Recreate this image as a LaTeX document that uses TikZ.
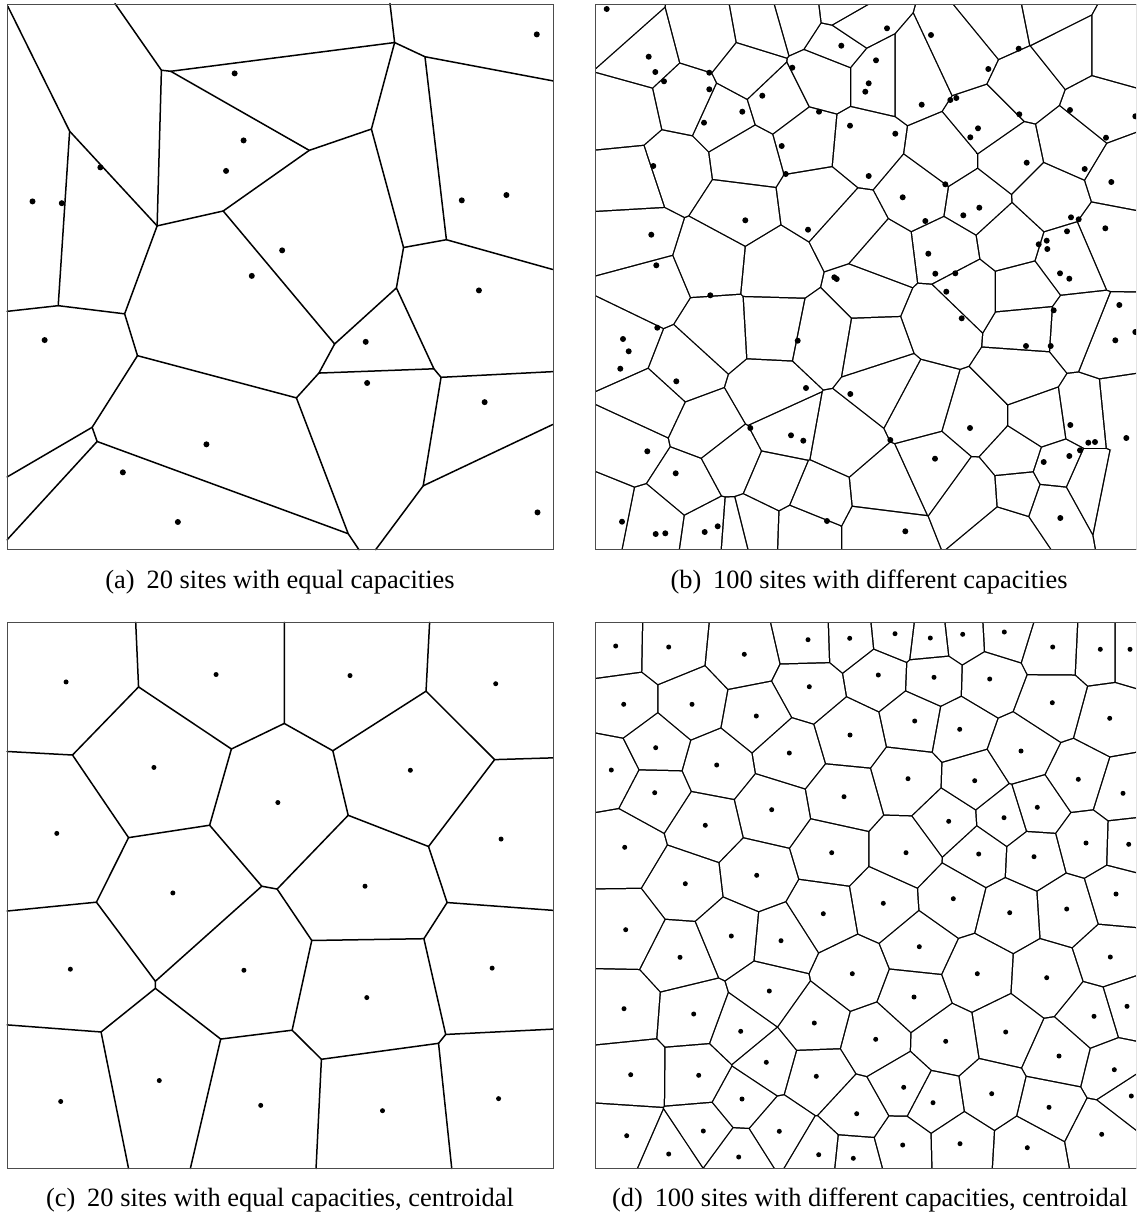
\documentclass[tikz,border=0pt]{standalone}
\usepackage{fontspec}
\setmainfont{Liberation Serif}
\ExplSyntaxOn
\cs_new:Npn \vfp #1 { \fp_to_decimal:n {#1} }
\ExplSyntaxOff
\def\vhw{0.75}
\newcommand\vorclip{%
  \edef\vdx{\vfp{\vxb-\vxa}}%
  \edef\vdy{\vfp{\vyb-\vya}}%
  \edef\vl{\vfp{sqrt((\vdx)^2+(\vdy)^2)}}%
  \edef\vux{\vfp{(\vdx)/\vl}}%
  \edef\vuy{\vfp{(\vdy)/\vl}}%
  \edef\vmx{\vfp{(\vxa+\vxb)/2-\vhw*(\vux)}}%
  \edef\vmy{\vfp{(\vya+\vyb)/2-\vhw*(\vuy)}}%
  \edef\vax{\vfp{round(\vmx-1500*(\vuy),3)}}%
  \edef\vay{\vfp{round(\vmy+1500*(\vux),3)}}%
  \edef\vbx{\vfp{round(\vmx+1500*(\vuy),3)}}%
  \edef\vby{\vfp{round(\vmy-1500*(\vux),3)}}%
  \edef\vcx{\vfp{round(\vbx-1500*(\vux),3)}}%
  \edef\vcy{\vfp{round(\vby-1500*(\vuy),3)}}%
  \edef\vex{\vfp{round(\vax-1500*(\vux),3)}}%
  \edef\vey{\vfp{round(\vay-1500*(\vuy),3)}}%
  \clip (\vax,\vay) -- (\vbx,\vby) -- (\vcx,\vcy) -- (\vex,\vey) -- cycle;%
}
\newcommand\vorpanel[6]{%
  \fill[black] (#2,#3) rectangle (#4,#5);
  \foreach \vxa/\vya [count=\ia] in #1 {
    \begin{scope}
      \clip (#2+\vhw,#3+\vhw) rectangle (#4-\vhw,#5-\vhw);
      \foreach \vxb/\vyb [count=\ib] in #1 {
        \ifnum\ia=\ib\relax\else
          \ifdim\dimexpr\vxb pt-\vxa pt\relax<#6pt
          \ifdim\dimexpr\vxa pt-\vxb pt\relax<#6pt
          \ifdim\dimexpr\vyb pt-\vya pt\relax<#6pt
          \ifdim\dimexpr\vya pt-\vyb pt\relax<#6pt
            \vorclip
          \fi\fi\fi\fi
        \fi
      }
      \fill[white] (#2,#3) rectangle (#4,#5);
    \end{scope}
  }
}
% generators of the cells of panel (b)
\def\genB{616.7/23.3, 643.3/53.3, 626.7/113.3, 706.7/36.7, 686.7/100, 723.3/116.7, 761.7/26.7, 748.3/70, 776.7/100, 796.7/16.7, 843.3/11, 850/22.7, 836.7/42.7, 823.3/76.7, 806.7/140, 862/145, 633.3/180, 673.3/166.7, 746.7/156.7, 740/210, 816.7/200, 636.7/238.3, 650/288, 712/262, 775/268, 850/230,
877.7/76.7, 912.7/76.7, 962.7/53.3, 999.3/23.3, 1049.3/13.3, 1067.7/50, 1116/50, 1026/83.3, 986/123.3, 946/156.7, 1009.3/156.7, 1072.7/143.3, 1099.3/110, 1122.7/173.3, 919.3/193.3, 974.3/201.7, 946/250, 1049.3/196.7, 1009.3/240, 1068/258, 1110/240, 882/258,
716.7/330, 773.3/326.7, 823.3/336.7, 623.3/343.3, 683.3/366.7, 770/393.3, 706.7/430, 650/403.3, 630/446.7, 686.7/483.3, 603.3/513.3, 653.3/523.3, 711.7/531.7, 733.3/533.3, 753.3/528.3, 730/460, 776.7/480, 786.7/430, 842/440, 816.7/496.7, 803.3/530, 880/530, 870/290, 872/345,
941/320, 968/292, 1022.7/291.7, 1026/326.7, 1076/330, 1109.3/343.3, 1022.7/373.3, 1039.3/420, 1086/413.3, 1119.3/410, 976/420, 885/385, 919.3/403.3, 936/466.7, 885/490, 972.7/493.3, 1006/533.3, 1016/456.7, 1019.3/490, 1052.7/501.7, 1056/470, 1086/483.3, 1119.3/490}
\def\dotsB{606.7/9, 648.7/56.7, 655.3/72, 664/81.3, 709.3/72.7, 709.3/89.3, 792.3/67.7, 841.3/45.7, 762.3/95.7, 742.3/111.7, 704/122.7, 819/111.7, 850/125.7, 781.7/146, 785.7/174, 653.3/166, 745.3/220.3, 808/229.7, 651.3/234.7, 656.3/265.3, 868.7/83.3, 865.3/91.7, 868.7/176, 834.3/277.3, 836.7/279,
887/28.3, 931/35, 876/60.3, 988.3/69, 1018.7/48.7, 921.7/104.7, 950.3/100, 956.3/98, 895.3/133.7, 978/128.3, 970.3/137.3, 1019.3/114.3, 1070/110, 1106/137.7, 1135.3/116.3, 1026.7/162.7, 1084.7/169, 1111.3/182, 945.3/184.3, 902.7/197.3, 979.3/207.7, 963.3/215.3, 925.3/221, 1071/217.3, 1078.7/219.3, 1067/231.3, 1105.3/228.3, 1046.7/240.7, 1038.7/244.3, 1047.3/249, 928.3/253.7, 935.3/273.7, 955.3/273.3, 1060/273.3, 1069.3/278.7,
946.3/291.7, 961.7/318.3, 1053.7/310.3, 1119.3/305, 1135.3/332, 1115.3/340.3, 1026/346, 1050.7/346, 970/428, 1070.3/425, 890.3/440, 935/458.7, 1088.3/442.7, 1095/442, 1126.3/438, 1080/450.3, 1069.3/456, 1043.7/462, 1060.3/518, 905.3/531.3,
710.3/295.3, 657.3/327.7, 623/339, 628.7/351.3, 620.3/368.7, 797.7/340.7, 676.3/381.3, 806/388, 850.3/394, 750.3/428, 791/435.3, 803.3/440.7, 647.3/451.3, 675.7/473.3, 827/521, 622/521.7, 655.7/534, 665.3/533.3, 704.7/532, 717.7/526.3}
\def\dotsD{615.7/646, 668.7/647, 744.3/654.3, 808/639.7, 849.7/638.3, 623.7/704.3, 692/704.3, 756.3/716, 809.3/686.7, 850/735, 655.7/747.7, 611.3/770, 716.7/765, 789.3/753, 654.7/792.7, 844/796.7, 771.7/809.7, 705.3/825.3, 624.7/847.3, 831.7/852.7, 756.7/875.3, 685.3/883.7,
895/633.7, 930.3/638, 962.7/634.3, 1004.3/632, 1052.7/647, 1100.3/649.3, 1130/649.3, 878.3/675, 934/677.3, 989.7/679, 1052.3/702.7, 1109.7/718.3, 914.7/721, 959.7/729.3, 1021/751, 908/778.7, 974.7/780.7, 1078.3/779.3, 1123/793.3, 1037.3/807.3, 948.7/821.3, 1004/817.7, 906/852.7, 978.7/854, 1034/856.7, 1086/843, 1128.7/844.3, 1116/894,
625.7/929.7, 680/957.3, 731.3/936, 781/940.7, 823.3/913.7, 852.3/973.7, 624/1008.7, 693.7/1014, 769.3/991, 814.3/1023, 740.7/1031.3, 766.3/1062.3, 630.7/1074.7, 698.7/1075.3, 816.3/1076.3, 856.7/1113.7, 742/1099, 626.7/1135.7, 703.3/1131, 779.3/1131.3, 668.7/1154, 738.7/1157, 818.7/1154.7, 853.3/1158.3,
883.3/903.3, 953.3/898.7, 1009.7/912.7, 1066.7/909, 919.3/946.7, 977.3/973.7, 1046.7/977.7, 1110.3/957, 914/997, 1127/1006.3, 1094/1016.3, 1005.7/1032, 875.7/1039.3, 945.7/1041.3, 1059/1056, 1114.3/1069.7, 1131.3/1096, 903.7/1087.3, 933/1102.7, 991.7/1093.7, 1049/1107.3, 1101.7/1134.3, 902.7/1145, 960/1143.7, 1027.3/1147.7}
\begin{document}
\begin{tikzpicture}[x=0.5pt,y=-0.5pt,
  edge/.style={line width=0.75pt,line join=round,line cap=round},
  frame/.style={line width=0.5pt,draw=black!70},
  caption/.style={font=\fontsize{13.2pt}{15pt}\selectfont,anchor=base,inner sep=0pt}]
\useasboundingbox (0,0) rectangle (1136,1215);
\clip (0,0) rectangle (1136,1215);
\fill[white] (0,0) rectangle (1136,1215);

% ---------- panel (a) ----------
\begin{scope}[xscale=1/2.8,yscale=1/2.82]
  \draw[edge] (22,18) -- (195,370) -- (163,862) -- (20,878);
  \draw[edge] (195,370) -- (440,637);
  \draw[edge] (322,10) -- (452,198) -- (440,637);
  \draw[edge] (452,198) -- (478,201) -- (1105,120) -- (1092,10);
  \draw[edge] (478,201) -- (866,424) -- (1040,364) -- (1105,120);
  \draw[edge] (1105,120) -- (1190,160) -- (1548,228);
  \draw[edge] (1190,160) -- (1250,676) -- (1548,760);
  \draw[edge] (1040,364) -- (1130,698) -- (1250,676);
  \draw[edge] (866,424) -- (625,595) -- (440,637);
  \draw[edge] (625,595) -- (937,970) -- (1110,812) -- (1130,698);
  \draw[edge] (1110,812) -- (1215,1040) -- (1235,1064) -- (1548,1048);
  \draw[edge] (937,970) -- (893,1052) -- (1215,1040);
  \draw[edge] (893,1052) -- (830,1122) -- (385,1003) -- (349,885) -- (440,637);
  \draw[edge] (349,885) -- (163,862);
  \draw[edge] (385,1003) -- (258,1205) -- (20,1345);
  \draw[edge] (258,1205) -- (272,1245) -- (20,1522);
  \draw[edge] (272,1245) -- (975,1505) -- (1005,1550);
  \draw[edge] (830,1122) -- (975,1505);
  \draw[edge] (1235,1064) -- (1185,1370) -- (1548,1197);
  \draw[edge] (1185,1370) -- (1052,1550);
\end{scope}
\foreach \x/\y in {1503/97, 657/207, 682/396, 633/482, 281/472, 91/568, 173/573, 1293/565, 1418/550, 790/706, 705/778, 1341/819, 125/959, 1024/964, 1028/1080, 1357/1134, 578/1253, 344/1332, 498/1472, 1505/1445}
  \fill (\x/2.8,\y/2.82) circle[radius=3.0];
\draw[frame] (7,4) rectangle (553,549.5);

% ---------- panel (c) ----------
\begin{scope}[shift={(0,616)},xscale=1/2.8,yscale=1/2.82]
  \draw[edge] (380,18) -- (388,200) -- (203,392) -- (20,382);
  \draw[edge] (388,200) -- (648,375) -- (796,303) -- (796,18);
  \draw[edge] (796,303) -- (932,380) -- (1193,212) -- (1203,18);
  \draw[edge] (1193,212) -- (1385,405) -- (1548,400);
  \draw[edge] (203,392) -- (360,625) -- (587,590) -- (648,375);
  \draw[edge] (932,380) -- (975,562) -- (1200,650) -- (1385,405);
  \draw[edge] (360,625) -- (270,807) -- (20,832);
  \draw[edge] (587,590) -- (733,762) -- (776,770) -- (975,562);
  \draw[edge] (1200,650) -- (1252,808) -- (1548,830);
  \draw[edge] (270,807) -- (435,1030) -- (733,762);
  \draw[edge] (435,1030) -- (435,1050) -- (283,1173) -- (20,1153);
  \draw[edge] (776,770) -- (873,915) -- (1187,910) -- (1252,808);
  \draw[edge] (435,1050) -- (618,1193) -- (818,1168) -- (873,915);
  \draw[edge] (818,1168) -- (900,1250) -- (1228,1205) -- (1248,1180) -- (1187,910);
  \draw[edge] (1248,1180) -- (1548,1165);
  \draw[edge] (283,1173) -- (360,1558);
  \draw[edge] (618,1193) -- (533,1558);
  \draw[edge] (900,1250) -- (885,1558);
  \draw[edge] (1228,1205) -- (1265,1558);
\end{scope}
\foreach \x/\y in {185/186, 605/165, 980/168, 1388/191, 431/427, 778/526, 1149/435, 159/613, 1403/629, 484/781, 1022/762, 197/996, 683/999, 1378/993, 1027/1076, 446/1310, 170/1369, 730/1380, 1071/1395, 1396/1361}
  \fill (\x/2.8,616+\y/2.82) circle[radius=2.5];
\draw[frame] (7,622.5) rectangle (553,1168.5);

% ---------- panel (b) ----------
\vorpanel{\genB}{595}{4}{1141}{549.5}{170}
\foreach \x/\y in \dotsB \fill (\x,\y) circle[radius=3.0];
\draw[frame] (595,4) rectangle (1141,549.5);

% ---------- panel (d) ----------
\vorpanel{\dotsD}{595}{622.5}{1141}{1168.5}{140}
\foreach \x/\y in \dotsD \fill (\x,\y) circle[radius=2.5];
\draw[frame] (595,622.5) rectangle (1141,1168.5);

% ---------- captions ----------
\node[caption] (capa) at (280,588) {(a)\hspace{0.45em}20 sites with equal capacities};
\node[caption] (capb) at (869,588) {(b)\hspace{0.45em}100 sites with different capacities};
\node[caption] (capc) at (280,1206) {(c)\hspace{0.45em}20 sites with equal capacities, centroidal};
\node[caption] (capd) at (870,1206) {(d)\hspace{0.45em}100 sites with different capacities, centroidal};
\end{tikzpicture}
\end{document}
